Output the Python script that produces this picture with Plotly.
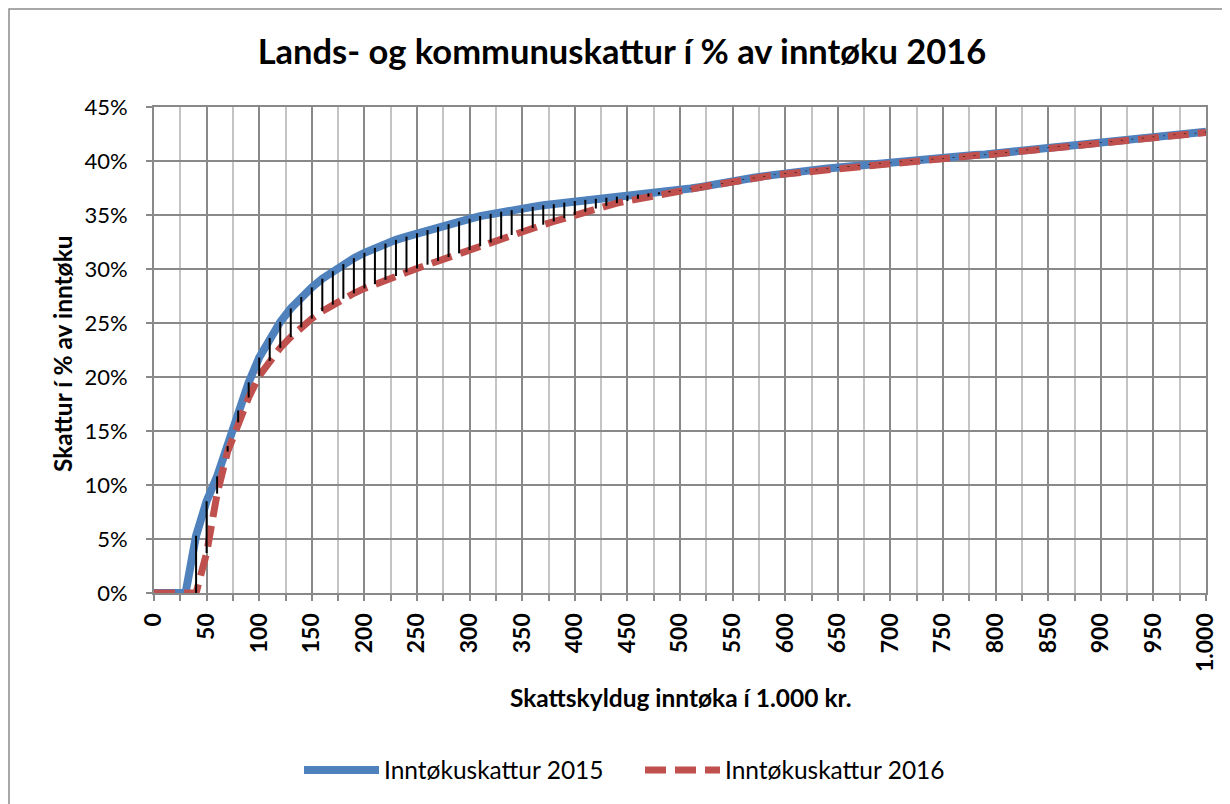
import plotly.graph_objects as go

income = list(range(0, 1001, 10))

tax_2015 = [0, 0, 0, 0, 5.3, 8.5, 10.8, 13.6, 16.9, 19.5,
            21.8, 23.6, 25.1, 26.35, 27.4, 28.3, 29.1, 29.8, 30.45, 31.0,
            31.5, 31.95, 32.35, 32.7, 33.0, 33.3, 33.6, 33.9, 34.15, 34.4,
            34.65, 34.9, 35.1, 35.3, 35.45, 35.6, 35.75, 35.9, 36.0, 36.15,
            36.3, 36.4, 36.5, 36.6, 36.7, 36.8, 36.9, 37.0, 37.1, 37.2,
            37.3, 37.45, 37.6, 37.8, 37.95, 38.15, 38.3, 38.45, 38.6, 38.75,
            38.85, 38.95, 39.1, 39.2, 39.3, 39.4, 39.5, 39.6, 39.7, 39.8,
            39.85, 39.95, 40.05, 40.1, 40.2, 40.25, 40.35, 40.45, 40.55, 40.6,
            40.7, 40.8, 40.95, 41.05, 41.15, 41.25, 41.35, 41.45, 41.55, 41.65,
            41.75, 41.85, 41.95, 42.05, 42.15, 42.25, 42.35, 42.45, 42.55, 42.6,
            42.7]

tax_2016 = [0, 0, 0, 0, 0, 3.7, 9.2, 13.1, 15.8, 18.1,
            20.1, 21.5, 22.7, 23.7, 24.6, 25.4, 26.1, 26.7, 27.25, 27.75,
            28.2, 28.6, 29.0, 29.35, 29.7, 30.05, 30.4, 30.75, 31.1, 31.45,
            31.75, 32.1, 32.45, 32.8, 33.15, 33.5, 33.8, 34.1, 34.4, 34.7,
            35.0, 35.3, 35.6, 35.85, 36.1, 36.3, 36.5, 36.7, 36.9, 37.1,
            37.25, 37.4, 37.55, 37.75, 37.9, 38.1, 38.25, 38.4, 38.55, 38.7,
            38.8, 38.9, 39.05, 39.15, 39.25, 39.35, 39.45, 39.55, 39.65, 39.75,
            39.8, 39.9, 40.0, 40.05, 40.15, 40.2, 40.3, 40.4, 40.5, 40.55,
            40.65, 40.75, 40.9, 41.0, 41.1, 41.2, 41.3, 41.4, 41.5, 41.6,
            41.7, 41.8, 41.9, 42.0, 42.1, 42.2, 42.3, 42.4, 42.5, 42.55,
            42.65]

x_tick_vals = list(range(0, 1001, 50))
x_tick_text = ["0", "50", "100", "150", "200", "250", "300", "350", "400", "450",
               "500", "550", "600", "650", "700", "750", "800", "850", "900", "950", "1.000"]
y_tick_vals = [0, 5, 10, 15, 20, 25, 30, 35, 40, 45]
y_tick_text = ["0%", "5%", "10%", "15%", "20%", "25%", "30%", "35%", "40%", "45%"]

title = "Lands- og kommunuskattur í % av inntøku 2016"
x_title = "Skattskyldug inntøka í 1.000 kr."
y_title = "Skattur í % av inntøku"
name_2015 = "Inntøkuskattur 2015"
name_2016 = "Inntøkuskattur 2016"

FONT = "Lato, 'Open Sans', sans-serif"
GRID_DARK = "#898989"
GRID_LIGHT = "#c4c4c4"

# high-low (drop) lines between the two series
drop_x, drop_y = [], []
for xi, a, b in zip(income, tax_2015, tax_2016):
    if abs(a - b) > 0.001:
        drop_x += [xi, xi, None]
        drop_y += [a, b, None]

fig = go.Figure()
fig.add_trace(go.Scatter(x=income, y=tax_2015, mode="lines", name=name_2015,
                         line=dict(color="#4f81bd", width=8)))
fig.add_trace(go.Scatter(x=income, y=tax_2016, mode="lines", name=name_2016,
                         line=dict(color="#c0504d", width=7, dash="21px,9px")))
fig.add_trace(go.Scatter(x=drop_x, y=drop_y, mode="lines", showlegend=False,
                         line=dict(color="black", width=2), hoverinfo="skip"))

OFF = 8  # page body margin
W, H = 1230, 804
# plot area in screen pixels: x 154..1206, y 107..593
L = 154 - OFF
T = 107 - OFF
R = W - (1206 - OFF)
B = H - (593 - OFF)
pw, ph = W - L - R, H - T - B


def px_x(px):
    return (px - OFF - L) / pw


def px_y(py):
    return (H - B - (py - OFF)) / ph


fig.update_layout(
    width=W, height=H,
    margin=dict(l=L, r=R, t=T, b=B),
    paper_bgcolor="white", plot_bgcolor="white",
    font=dict(family=FONT, color="black"),
    title=dict(text="<b>" + title + "</b>", x=(622 - OFF) / W, xref="container", xanchor="center",
               y=1 - (52 - OFF) / H, yref="container", yanchor="middle",
               font=dict(size=34.5, family=FONT, color="black")),
    showlegend=True,
    legend=dict(orientation="h", x=px_x(640), xanchor="center", y=px_y(770), yanchor="middle",
                font=dict(size=24.5, family=FONT), itemwidth=75, entrywidth=251,
                bgcolor="rgba(0,0,0,0)", tracegroupgap=0, traceorder="normal"),
    xaxis=dict(range=[0, 1000], tickmode="array", tickvals=x_tick_vals, ticktext=x_tick_text,
               tickangle=-90, tickfont=dict(size=23, family=FONT, weight="bold"),
               showgrid=True, gridcolor=GRID_DARK, gridwidth=2,
               ticks="outside", ticklen=6, tickcolor=GRID_DARK, tickwidth=1.5,
               showline=True, linecolor=GRID_DARK, linewidth=2, mirror=True,
               zeroline=False, ticklabelstandoff=3,
               minor=dict(dtick=25, tick0=0, showgrid=True, gridcolor=GRID_LIGHT, gridwidth=2,
                          ticks="outside", ticklen=6, tickcolor=GRID_DARK, tickwidth=1.5)),
    yaxis=dict(range=[0, 45], tickmode="array", tickvals=y_tick_vals, ticktext=y_tick_text,
               tickfont=dict(size=22, family=FONT),
               showgrid=True, gridcolor=GRID_DARK, gridwidth=2,
               ticks="outside", ticklen=6, tickcolor=GRID_DARK, tickwidth=1.5,
               showline=True, linecolor=GRID_DARK, linewidth=2, mirror=True,
               zeroline=False, ticklabelstandoff=14),
    annotations=[
        dict(text="<b>" + x_title + "</b>", xref="paper", yref="paper", x=0.5, y=px_y(697),
             xanchor="center", yanchor="middle", showarrow=False, font=dict(size=24.5, family=FONT)),
        dict(text="<b>" + y_title + "</b>", xref="paper", yref="paper", x=px_x(62), y=px_y(354),
             xanchor="center", yanchor="middle", textangle=-90, showarrow=False,
             font=dict(size=24.5, family=FONT)),
    ],
    shapes=[dict(type="rect", xref="paper", yref="paper",
                 x0=px_x(9), y0=px_y(9), x1=px_x(1250), y1=px_y(830),
                 line=dict(color="#8c8c8c", width=1.5), layer="below")],
)

fig.write_html("out.html")
